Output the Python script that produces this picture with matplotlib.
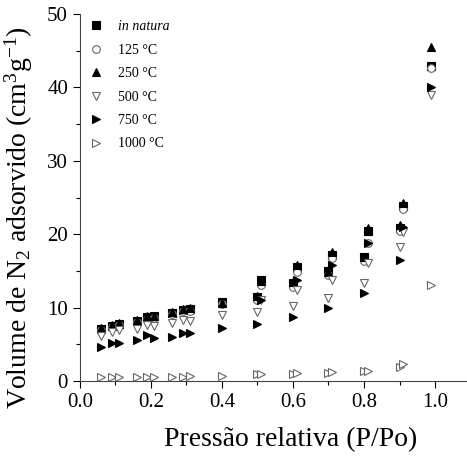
import matplotlib
matplotlib.use("Agg")
import matplotlib.pyplot as plt
from matplotlib.ticker import MultipleLocator

plt.rcParams['font.family'] = ['Liberation Serif', 'DejaVu Serif']
plt.rcParams['mathtext.fontset'] = 'custom'
plt.rcParams['mathtext.rm'] = 'Liberation Serif'
plt.rcParams['mathtext.it'] = 'Liberation Serif:italic'

# relative pressure, adsorption and desorption branches
x_ads = [0.06, 0.09, 0.16, 0.19, 0.26, 0.29, 0.40, 0.50, 0.60, 0.70, 0.80, 0.90, 0.99]
x_des = [0.91, 0.81, 0.71, 0.61, 0.51, 0.31, 0.21, 0.11]

labels = ['in natura', '125 °C', '250 °C', '500 °C', '750 °C', '1000 °C']

natura_ads = [7.1, 7.5, 8.2, 8.7, 9.3, 9.7, 10.8, 11.4, 13.4, 15.0, 16.9, 20.8, 42.9]
natura_des = [23.8, 20.4, 17.2, 15.5, 13.8, 9.8, 8.8, 7.8]
c125_ads = [6.9, 7.3, 8.0, 8.5, 9.1, 9.5, 10.5, 11.0, 12.8, 14.5, 16.3, 20.4, 42.6]
c125_des = [23.4, 18.8, 16.8, 14.8, 13.1, 9.6, 8.6, 7.6]
c250_ads = [7.2, 7.7, 8.3, 8.8, 9.4, 9.8, 10.6, 11.6, 13.5, 14.9, 16.9, 21.2, 45.5]
c250_des = [24.2, 20.8, 17.6, 15.8, 13.6, 9.9, 8.9, 7.9]
c500_ads = [6.1, 6.7, 7.1, 7.6, 7.9, 8.3, 9.0, 9.4, 10.2, 11.3, 13.3, 18.3, 39.0]
c500_des = [20.3, 16.1, 13.8, 12.4, 11.0, 8.2, 7.5, 6.9]
c750_ads = [4.6, 5.2, 5.6, 6.3, 6.0, 6.5, 7.2, 7.8, 8.7, 10.0, 12.0, 16.5, 40.1]
c750_des = [21.0, 18.8, 15.8, 13.8, 11.0, 6.5, 5.9, 5.2]
c1000_ads = [0.5, 0.5, 0.5, 0.6, 0.6, 0.6, 0.7, 0.9, 1.0, 1.1, 1.3, 1.9, 13.1]
c1000_des = [2.3, 1.4, 1.2, 1.1, 0.9, 0.7, 0.6, 0.5]

series = [
    (natura_ads, natura_des, 's', 'black'),
    (c125_ads, c125_des, 'o', 'white'),
    (c250_ads, c250_des, '^', 'black'),
    (c500_ads, c500_des, 'v', 'white'),
    (c750_ads, c750_des, '>', 'black'),
    (c1000_ads, c1000_des, '>', 'white'),
]

fig = plt.figure(figsize=(4.67, 4.61), dpi=100)
ax = fig.add_axes([0.171, 0.1735, 0.829, 0.796])

for (ya, yd, m, fc), lab in zip(series, labels):
    ec = 'black' if fc == 'black' else '#666666'
    ax.plot(x_ads, ya, ls='none', marker=m, ms=5.5, mfc=fc, mec=ec, mew=0.8, label=lab)
    ax.plot(x_des, yd, ls='none', marker=m, ms=5.5, mfc=fc, mec=ec, mew=0.8)

ax.set_xlim(0, 1.09)
ax.set_ylim(0, 50)
ax.xaxis.set_major_locator(MultipleLocator(0.2))
ax.xaxis.set_minor_locator(MultipleLocator(0.1))
ax.yaxis.set_major_locator(MultipleLocator(10))
ax.yaxis.set_minor_locator(MultipleLocator(5))
ax.xaxis.set_major_formatter(plt.FuncFormatter(lambda v, p: f"{v:.1f}"))
ax.tick_params(which='major', direction='out', length=5, width=0.8, labelsize=15)
ax.tick_params(which='minor', direction='out', length=3, width=0.8)
for s in ['top', 'right']:
    ax.spines[s].set_visible(False)
ax.spines['left'].set_color('#444444')
ax.spines['bottom'].set_color('#444444')

ax.set_xlabel('Pressão relativa (P/Po)', fontsize=20)
ax.set_ylabel('Volume de N$_2$ adsorvido (cm$^3$g$^{-1}$)', fontsize=20)
ax.xaxis.set_label_coords(0.545, -0.125)
ax.yaxis.set_label_coords(-0.117, 0.445)

leg = ax.legend(loc='upper left', frameon=False, fontsize=10, handletextpad=0.9,
                labelspacing=0.75, borderaxespad=0.0, borderpad=0.45, handlelength=1.4)
leg.get_texts()[0].set_fontstyle('italic')

fig.savefig('out.png', dpi=100)
